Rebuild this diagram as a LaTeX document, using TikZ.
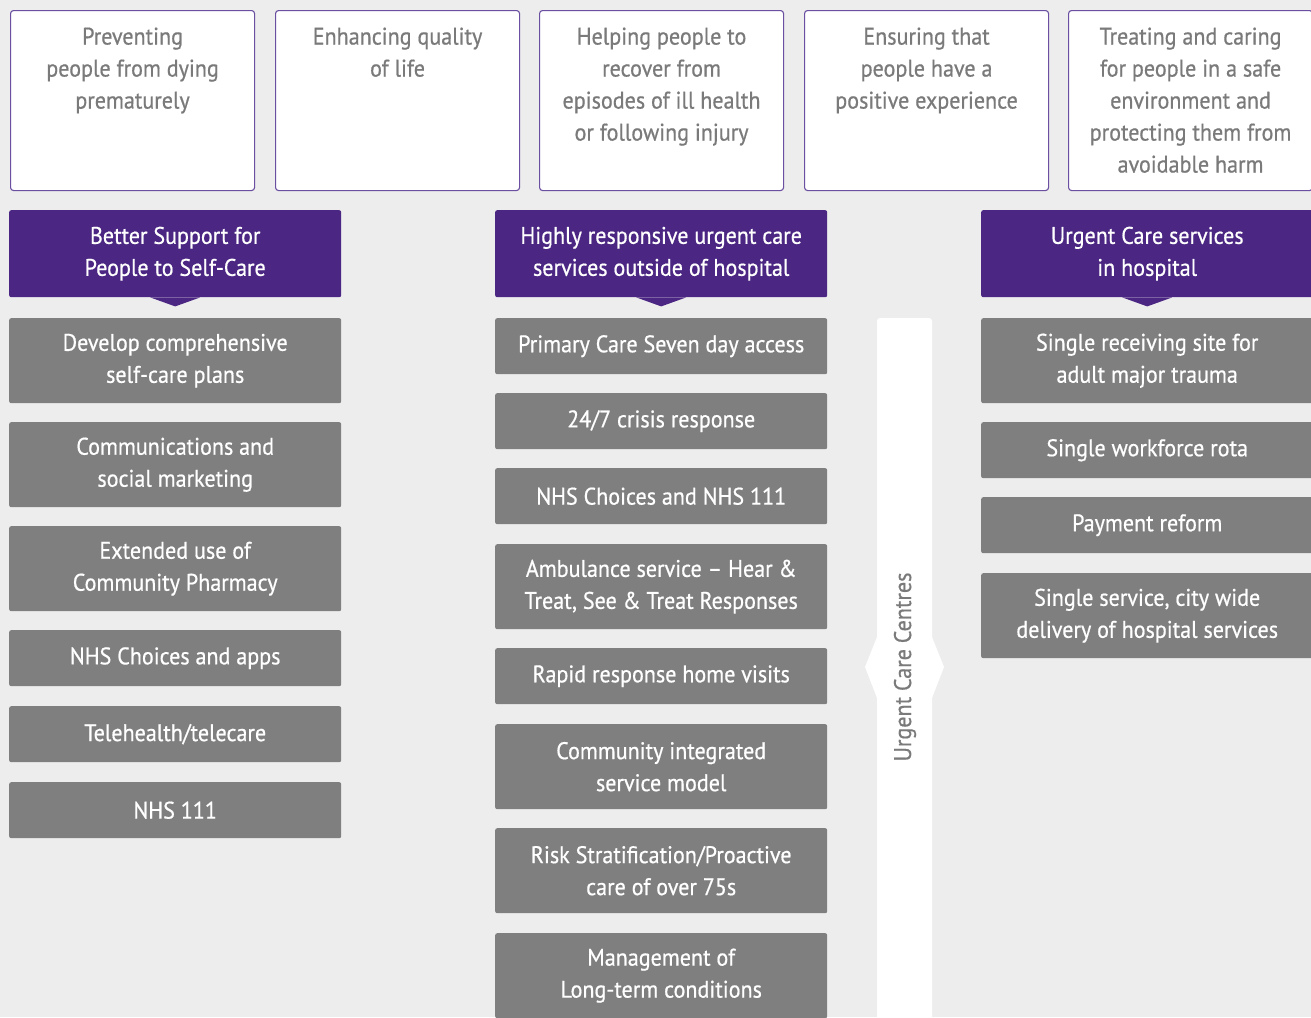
\documentclass[tikz,border=0pt]{standalone}
\usepackage{fontspec}
\setmainfont{PT Sans}[FakeStretch=0.92,FakeBold=0.6]
\definecolor{bgGrey}{HTML}{EDEDED}
\definecolor{goalEdge}{HTML}{6B4FA0}
\definecolor{goalText}{HTML}{7A7A7A}
\definecolor{themePurple}{HTML}{4B2682}
\definecolor{taskGrey}{HTML}{7F7F7F}
\newcommand{\boxfont}{\fontsize{24}{32}\selectfont}
\newcommand{\goaltxt}[1]{\parbox[t][148pt][t]{240pt}{\centering\boxfont\rule{0pt}{18pt}#1}}
\begin{document}
\begin{tikzpicture}[x=1pt,y=-1pt,
    goal/.style={draw=goalEdge, line width=1.1pt, fill=white, rounded corners=3pt, anchor=north west,
      minimum width=244pt, minimum height=180pt, inner xsep=0pt, inner ysep=16pt, text=goalText},
    theme/.style={fill=themePurple, rounded corners=2pt, anchor=north west, minimum width=332pt,
      minimum height=87pt, inner sep=0pt, text=white, align=center, font=\boxfont},
    task/.style={fill=taskGrey, rounded corners=2pt, anchor=north west, minimum width=332pt,
      inner sep=0pt, text=white, align=center, font=\boxfont},
    one/.style={task, minimum height=56pt},
    two/.style={task, minimum height=85pt},
    notch/.style={fill=themePurple}]
  \fill [bgGrey] (0,0) rectangle (1311,1017);
  \useasboundingbox (0,0) rectangle (1311,1017);
  \clip (0,0) rectangle (1311,1017);
  % outcome boxes
  \node (goalA) [goal] at (10,10) {\goaltxt{Preventing\\people from dying\\prematurely}};
  \node (goalB) [goal] at (275,10) {\goaltxt{Enhancing quality\\of life}};
  \node (goalC) [goal] at (539,10) {\goaltxt{Helping people to\\recover from\\episodes of ill health\\or following injury}};
  \node (goalD) [goal] at (804,10) {\goaltxt{Ensuring that\\people have a\\positive experience}};
  \node (goalE) [goal] at (1068,10) {\goaltxt{Treating and caring\\for people in a safe\\environment and\\protecting them from\\avoidable harm}};
  % themes
  \node (selfCare) [theme] at (9,210) {Better Support for\\People to Self-Care};
  \node (outHosp) [theme] at (495,210) {Highly responsive urgent care\\services outside of hospital};
  \node (inHosp) [theme] at (981,210) {Urgent Care services\\in hospital};
  \foreach \t in {selfCare,outHosp,inHosp}
    \fill [notch] ([xshift=-25pt]\t.south) -- ([yshift=-9pt]\t.south) -- ([xshift=25pt]\t.south) -- cycle;
  % self-care column
  \node (plans) [two] at (9,318) {Develop comprehensive\\self-care plans};
  \node (comms) [two] at (9,422) {Communications and\\social marketing};
  \node (pharm) [two] at (9,526) {Extended use of\\Community Pharmacy};
  \node (apps) [one] at (9,630) {NHS Choices and apps};
  \node (tele) [one] at (9,706) {Telehealth/telecare};
  \node (nhsA) [one] at (9,782) {NHS 111};
  % outside hospital column
  \node (primary) [one] at (495,318) {Primary Care Seven day access};
  \node (crisis) [one] at (495,393) {24/7 crisis response};
  \node (nhsB) [one] at (495,468) {NHS Choices and NHS 111};
  \node (ambul) [two] at (495,544) {Ambulance service -- Hear \&\\Treat, See \& Treat Responses};
  \node (rapid) [one] at (495,648) {Rapid response home visits};
  \node (commInt) [two] at (495,724) {Community integrated\\service model};
  \node (risk) [two] at (495,828) {Risk Stratification/Proactive\\care of over 75s};
  \node (ltc) [two] at (495,933) {Management of\\Long-term conditions};
  % urgent care centres
  \fill [white, rounded corners=3pt] (877,318) rectangle (932,1040);
  \fill [white] (877,637) -- (865,667) -- (877,698) -- cycle;
  \fill [white] (932,637) -- (944,667) -- (932,698) -- cycle;
  \node (ucc) [rotate=90, text=goalText, font=\boxfont] at (905,667) {Urgent Care Centres};
  % in hospital column
  \node (trauma) [two] at (981,318) {Single receiving site for\\adult major trauma};
  \node (rota) [one] at (981,422) {Single workforce rota};
  \node (payment) [one] at (981,497) {Payment reform};
  \node (cityWide) [two] at (981,573) {Single service, city wide\\delivery of hospital services};
\end{tikzpicture}
\end{document}
